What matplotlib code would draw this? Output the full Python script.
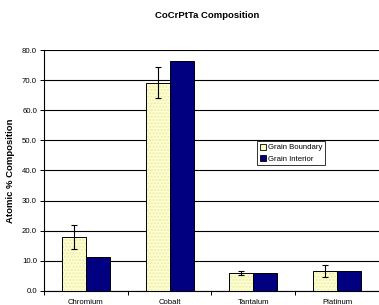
import numpy as np
import matplotlib
matplotlib.use("Agg")
import matplotlib.pyplot as plt
from matplotlib.patches import Patch

plt.rcParams['font.family'] = ['Liberation Sans', 'DejaVu Sans']

elements = ['Chromium', 'Cobalt', 'Tantalum', 'Platinum']
boundary = [18.0, 69.1, 6.0, 6.6]
boundary_err = [4.0, 5.1, 0.7, 2.0]
interior = [11.2, 76.2, 6.0, 6.6]
yticks = [0, 10, 20, 30, 40, 50, 60, 70, 80]

fig = plt.figure(figsize=(3.79, 3.05), dpi=100)
ax = fig.add_axes([0.116, 0.046, 0.884, 0.79])

x = np.arange(len(elements)) + 0.5
w = 1 / 3.5

# yellow bars with a faint dot pattern, then the black outline on top
ax.bar(x - w / 2, boundary, w, color='#FFFFCC', edgecolor='#EAEAB8',
       hatch='.....', linewidth=0, zorder=3)
ax.bar(x - w / 2, boundary, w, color='none', edgecolor='black',
       linewidth=0.7, zorder=4)
ax.bar(x + w / 2, interior, w, color='#000080', edgecolor='black',
       linewidth=0.7, zorder=3)
ax.errorbar(x - w / 2, boundary, yerr=boundary_err, fmt='none',
            ecolor='black', elinewidth=0.8, capsize=2.5, capthick=0.8, zorder=5)

ax.set_xlim(0, len(elements))
ax.set_ylim(0, 80)
ax.set_yticks(yticks)
ax.set_yticklabels(['%.1f' % v for v in yticks], fontsize=5.6)
ax.set_xticks(np.arange(len(elements) + 1))
ax.set_xticklabels([])
ax.set_xticks(x, minor=True)
ax.set_xticklabels(elements, minor=True, fontsize=5.6)
ax.tick_params(axis='x', which='minor', length=0, pad=6)
ax.tick_params(axis='x', which='major', length=3, width=0.7, direction='out')
ax.tick_params(axis='y', length=3, width=0.7, direction='out', pad=2)

ax.grid(axis='y', color='black', linewidth=0.8, zorder=0)
for s in ['top', 'right']:
    ax.spines[s].set_visible(False)
for s in ['left', 'bottom']:
    ax.spines[s].set_linewidth(0.8)

ax.set_ylabel('Atomic % Composition', fontsize=6.8, fontweight='bold', labelpad=5)
fig.text(0.547, 0.948, 'CoCrPtTa Composition', fontsize=6.8, fontweight='bold',
         ha='center', va='center')

handles = [Patch(facecolor='#FFFFCC', edgecolor='black', linewidth=0.6),
           Patch(facecolor='#000080', edgecolor='black', linewidth=0.6)]
leg = ax.legend(handles, ['Grain Boundary', 'Grain Interior'], loc='upper left',
                bbox_to_anchor=(0.636, 0.622), fontsize=5.6, frameon=True,
                fancybox=False, edgecolor='black', borderpad=0.35,
                handlelength=0.8, handleheight=0.8, handletextpad=0.2,
                labelspacing=0.45, borderaxespad=0)
leg.get_frame().set_linewidth(0.7)

fig.savefig('out.png', dpi=100)
